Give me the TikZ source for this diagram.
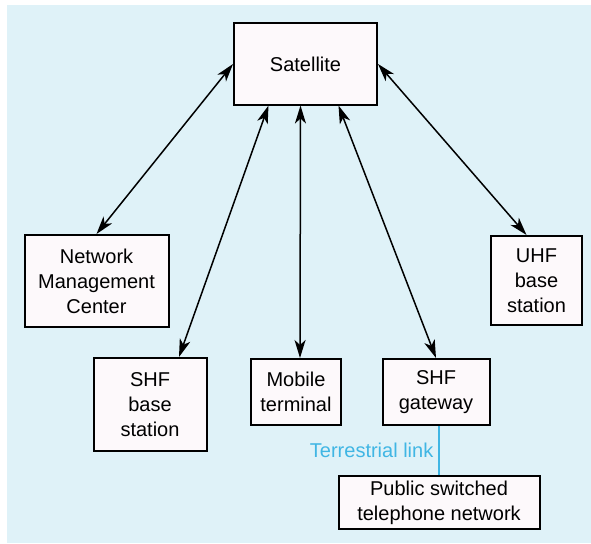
\documentclass[tikz,border=0pt]{standalone}
\usepackage{fontspec}
\setmainfont{Liberation Sans}
\usepackage{xcolor}
\usetikzlibrary{arrows.meta, positioning, calc, shadows}

\definecolor{bgcyan}{RGB}{223,242,248}
\definecolor{boxwhite}{RGB}{253,249,251}
\definecolor{linkblue}{RGB}{64,182,228}

\begin{document}
\begin{tikzpicture}[
   x=1pt, y=-1pt,
   unit/.style={rectangle, draw=black, line width=2pt, fill=boxwhite, align=center,
      font=\fontsize{20}{25}\selectfont, inner sep=2pt,
      general shadow={fill=black, shadow xshift=1pt, shadow yshift=-1pt}},
   radio/.style={<->, >={Stealth[length=18pt,width=11pt,inset=5pt]}, line width=1.5pt},
   link/.style={draw=linkblue, line width=1.4pt}
]
   \useasboundingbox (0,0) rectangle (591,543);
   \fill[bgcyan] (7,5) rectangle (591,543);

   % Satellite
   \node[unit, minimum width=143pt, minimum height=81pt] (sat) at (305.5,64) {Satellite};

   % Ground stations
   \node[unit, minimum width=144pt, minimum height=92pt] (nmc) at (96.5,281) {Network\\Management\\Center};
   \node[unit, minimum width=91pt, minimum height=89pt] (uhf) at (536.5,280.5) {UHF\\base\\station};
   \node[unit, minimum width=113pt, minimum height=93pt] (shf) at (150,404.5) {SHF\\base\\station};
   \node[unit, minimum width=90pt, minimum height=66pt] (mob) at (296,392) {Mobile\\terminal};
   \node[unit, minimum width=107pt, minimum height=66pt] (gw) at (436,392) {SHF\\gateway};
   \node[unit, minimum width=201pt, minimum height=53pt] (pstn) at (439,502.5) {Public switched\\telephone network};

   % Radio links to the satellite
   \draw[radio] (sat.west) -- (nmc.north);
   \draw[radio] ([xshift=-37pt]sat.south) -- ([xshift=29pt]shf.north);
   \draw[radio] ([xshift=-5pt]sat.south) -- ([xshift=4pt]mob.north);
   \draw[radio] ([xshift=33pt]sat.south) -- (gw.north);
   \draw[radio] (sat.east) -- ([xshift=-10pt]uhf.north);

   % Terrestrial link
   \draw[link] ([xshift=3pt]gw.south) -- (pstn.north)
      node[midway, left, text=linkblue, font=\fontsize{20}{25}\selectfont, inner sep=5pt] {Terrestrial link};
\end{tikzpicture}
\end{document}
